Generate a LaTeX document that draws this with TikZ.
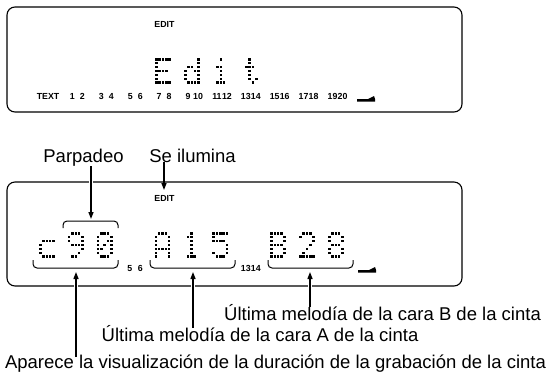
\documentclass[tikz,border=0pt]{standalone}
\usepackage{fontspec}
\setmainfont{Liberation Sans}
\usetikzlibrary{arrows.meta}
\newcommand\dmchar[3]{%
  \foreach \v [count=\r] in {#3} {
    \foreach \c in {1,...,5} {
      \pgfmathtruncatemacro\bitv{mod(floor(\v/pow(2,5-\c)),2)}
      \ifnum\bitv=1 \fill[dotpx] ({#1+(\c-1)*3.3},{#2+(\r-1)*3.9}) rectangle ++(2.5,2.5);\fi
    }
  }
}
\newcommand\tapesym[2]{%
  \fill (#1,#2) -- ++(11,0) -- ++(6,-3) -- ++(1,3) -- ++(0,2.6) -- ++(-18,0) -- cycle;
}
\tikzset{
  dotpx/.style={fill=black},
  lcdbox/.style={draw, line width=1.1pt, rounded corners=8pt},
  lbl/.style={font=\fontsize{18.5}{20}\selectfont, inner sep=0pt, anchor=base},
  seg/.style={font=\bfseries\fontsize{8.8}{9}\selectfont, inner sep=0pt, anchor=base},
  ptr/.style={line width=1.3pt, -{Triangle[length=7pt,width=5pt]}},
  halo/.style={white, line width=4.5pt, shorten >=9pt},
  bracket/.style={line width=1pt, rounded corners=4pt},
}
\begin{document}
\begin{tikzpicture}[x=1pt, y=-1pt]
\useasboundingbox (0,0) rectangle (551,376);
% ---------- top display ----------
\draw[lcdbox] (7,7) rectangle (462,112);
\node[seg] (edit1) at (164.5,27.2) {EDIT};
\dmchar{155.1}{58}{31,16,16,30,16,16,31}
\dmchar{184.0}{58}{1,1,13,19,17,17,15}
\dmchar{212.9}{58}{4,0,12,4,4,4,14}
\dmchar{241.8}{58}{4,4,14,4,4,5,2}
\node[seg] (txt) at (48,99.2) {TEXT};
\foreach \k in {1,...,10} {
  \pgfmathtruncatemacro\na{2*\k-1}
  \pgfmathtruncatemacro\nb{2*\k}
  \node[seg] (na\k) at ({39+28.9*\k+4.5},99.2) {\na};
  \node[seg] (nb\k) at ({39+28.9*\k+14.5},99.2) {\nb};
}
\tapesym{357}{99}
% ---------- bottom display ----------
\draw[lcdbox] (7,182) rectangle (462,286);
\node[seg] (edit2) at (164.5,201.2) {EDIT};
% c 9 0
\dmchar{39.0}{232}{0,0,15,16,16,16,15}
\dmchar{67.9}{232}{14,17,17,15,1,2,12}
\dmchar{96.8}{232}{14,17,19,21,25,17,14}
% A 1 5
\dmchar{154.6}{232}{14,17,17,17,31,17,17}
\dmchar{183.5}{232}{4,12,4,4,4,4,14}
\dmchar{212.4}{232}{31,16,30,1,1,17,14}
% B 2 8
\dmchar{270.2}{232}{30,17,17,30,17,17,30}
\dmchar{299.1}{232}{14,17,1,2,4,8,31}
\dmchar{328.0}{232}{14,17,17,14,17,17,14}
\node[seg] (s5) at (129.7,271.2) {5};
\node[seg] (s6) at (140.2,271.2) {6};
\node[seg] (s13) at (245.8,271.2) {13};
\node[seg] (s14) at (255.8,271.2) {14};
\tapesym{358}{270}
% brackets
\draw[bracket] (63,228) -- (63,221) -- (118,221) -- (118,228);
\draw[bracket] (33,260) -- (33,268) -- (118,268) -- (118,260);
\draw[bracket] (150,260) -- (150,268) -- (235,268) -- (235,260);
\draw[bracket] (268,260) -- (268,268) -- (353,268) -- (353,260);
\coordinate (tipP) at (91,219);
\coordinate (tipE) at (164,190);
\coordinate (tipC) at (76,272);
\coordinate (tipA) at (193,272);
\coordinate (tipB) at (310,272);
% labels
\node[lbl] (parp) at (83.5,162) {Parpadeo};
\node[lbl] (seil) at (192.5,162) {Se ilumina};
\node[lbl] (ultB) at (382.5,320) {Última melodía de la cara B de la cinta};
\node[lbl] (ultA) at (260,341) {Última melodía de la cara A de la cinta};
\node[lbl] (apar) at (275.5,368) {Aparece la visualización de la duración de la grabación de la cinta};
% arrows
\draw[halo] (tipP |- parp.south) -- (tipP);
\draw[halo] (tipE |- seil.south) -- (tipE);
\draw[halo] ([yshift=-3pt]tipC |- apar.north) -- (tipC);
\draw[halo] ([yshift=-3pt]tipA |- ultA.north) -- (tipA);
\draw[halo] ([yshift=-3pt]tipB |- ultB.north) -- (tipB);
\draw[ptr] (tipP |- parp.south) -- (tipP);
\draw[ptr] (tipE |- seil.south) -- (tipE);
\draw[ptr] ([yshift=-3pt]tipC |- apar.north) -- (tipC);
\draw[ptr] ([yshift=-3pt]tipA |- ultA.north) -- (tipA);
\draw[ptr] ([yshift=-3pt]tipB |- ultB.north) -- (tipB);
\end{tikzpicture}
\end{document}
